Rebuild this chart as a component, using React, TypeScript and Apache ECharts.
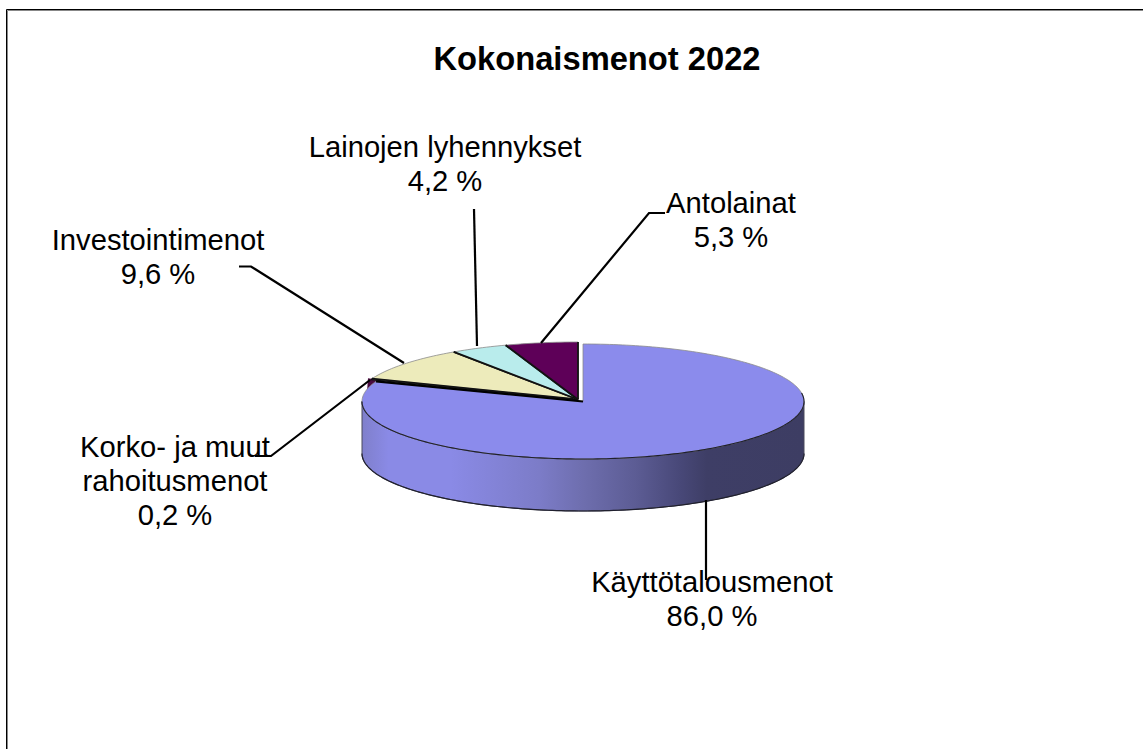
import React, { useEffect, useRef } from "react";
import * as echarts from "echarts";

const titleText = "Kokonaismenot 2022";
// drawn shares of the pie, clockwise from 12 o'clock
const categories = ["Käyttötalousmenot", "Korko- ja muut\nrahoitusmenot", "Investointimenot", "Lainojen lyhennykset", "Antolainat"];
const sliceShares = [80.7, 0.2, 9.6, 4.2, 5.3];
const shownPercents = ["86,0 %", "0,2 %", "9,6 %", "4,2 %", "5,3 %"];
const sliceColors = ["#8B8BEC", "#4A0A40", "#EDEBBB", "#B9ECEC", "#5E0058"];

const FONT = '"Liberation Sans", Arial, sans-serif';
const CX = 578, CY = 399.5, RX = 221, RY = 57.5, DEPTH = 52;
const MAIN_DX = 5, MAIN_DY = 2;

// leader line per slice (from slice edge to label) and label anchor
const leaders = [
  [[706, 500], [706, 580]],
  [[370, 380], [271, 456], [255, 456]],
  [[404, 363], [251, 266.5], [239, 266.5]],
  [[477, 346], [474, 209]],
  [[541, 343], [649, 213], [665, 213]],
];
const labelAnchors = [
  [712, 599],
  [175, 481],
  [158, 257],
  [445, 164],
  [731, 220],
];

const wallGradient = {
  type: "linear", x: 0, y: 0, x2: 1, y2: 0,
  colorStops: [
    { offset: 0, color: "#7F7FCB" },
    { offset: 0.06, color: "#8A8AE6" },
    { offset: 0.2, color: "#8A8AE6" },
    { offset: 0.4, color: "#7C7CC8" },
    { offset: 0.5, color: "#6E6EAE" },
    { offset: 0.62, color: "#5C5C94" },
    { offset: 0.72, color: "#484878" },
    { offset: 0.78, color: "#3E3E66" },
    { offset: 1, color: "#3D3D63" },
  ],
};

function arcPts(cx: number, cy: number, a0: number, a1: number) {
  const n = Math.max(2, Math.ceil(Math.abs(a1 - a0) / 0.02));
  const pts: number[][] = [];
  for (let i = 0; i <= n; i++) {
    const a = a0 + ((a1 - a0) * i) / n;
    pts.push([cx + RX * Math.sin(a), cy - RY * Math.cos(a)]);
  }
  return pts;
}

export default function App() {
  const ref = useRef<HTMLDivElement>(null);
  useEffect(() => {
    if (!ref.current) return;
    const chart = echarts.init(ref.current, undefined, { renderer: "svg" });
    const total = sliceShares.reduce((a, b) => a + b, 0);
    const starts: number[] = [];
    let acc = 0;
    sliceShares.forEach((v) => {
      starts.push(acc);
      acc += (v / total) * Math.PI * 2;
    });
    const renderItem = (_p: any, api: any) => {
      const idx = api.value(0) as number;
      const share = api.value(1) as number;
      const a0 = starts[idx];
      const a1 = a0 + (share / total) * Math.PI * 2;
      const isMain = idx === 0;
      const cx = CX + (isMain ? MAIN_DX : 0);
      const cy = CY + (isMain ? MAIN_DY : 0);
      const arc = arcPts(cx, cy, a0, a1);
      const children: any[] = [];
      // side wall: only the front half of the ellipse (angles between 90° and 270°)
      const wallA0 = Math.max(a0, Math.PI / 2);
      const wallA1 = Math.min(a1, (Math.PI * 3) / 2);
      if (isMain && wallA1 > wallA0) {
        const front = arcPts(cx, cy, wallA0, wallA1);
        const bottom = front.map(([x, y]) => [x, y + DEPTH]).reverse();
        children.push({
          type: "polygon",
          shape: { points: [...front, ...bottom] },
          style: { fill: wallGradient, stroke: "#4A4A5C", lineWidth: 1 },
        });
        children.push({
          type: "polyline",
          shape: { points: front.map(([x, y]) => [x, y + DEPTH]) },
          style: { stroke: "#20202E", lineWidth: 1.2, fill: "none" },
        });
      }
      if (idx === 1) {
        // the thin slice shows only its cut face behind the main slice
        const [ox, oy] = arc[0];
        children.push({
          type: "polygon",
          shape: { points: [[ox - 3, oy - 1], [ox + 10, oy + 1], [ox - 4, oy + 12]] },
          style: { fill: sliceColors[idx] },
        });
      }
      children.push({
        type: "polygon",
        shape: { points: [[cx, cy], ...arc] },
        style: { fill: sliceColors[idx], stroke: "#8a8a8a", lineWidth: 0.8, lineJoin: "round" },
      });
      // dark cut edges of the slice
      if (isMain) {
        const frontTop = arcPts(cx, cy, Math.PI / 2 - 0.15, Math.PI * 1.5);
        children.push({
          type: "polyline",
          shape: { points: frontTop },
          style: { stroke: "#20202E", lineWidth: 1.1, fill: "none" },
        });
        children.push({
          type: "line",
          shape: { x1: cx, y1: cy, x2: arc[arc.length - 1][0], y2: arc[arc.length - 1][1] },
          style: { stroke: "#000", lineWidth: 2.2 },
        });
      } else {
        [arc[0], arc[arc.length - 1]].forEach(([x, y]) =>
          children.push({
            type: "line",
            shape: { x1: cx, y1: cy, x2: x, y2: y },
            style: { stroke: "#111", lineWidth: 1.8 },
          }),
        );
      }
      // leader and label
      children.push({
        type: "polyline",
        shape: { points: leaders[idx] },
        style: { stroke: "#000", lineWidth: 2.2, fill: "none" },
        silent: true,
      });
      children.push({
        type: "text",
        x: labelAnchors[idx][0],
        y: labelAnchors[idx][1],
        style: {
          text: `${categories[idx]}\n${shownPercents[idx]}`,
          font: `29.2px ${FONT}`,
          fill: "#000",
          align: "center",
          verticalAlign: "middle",
          lineHeight: 34,
        },
      });
      return { type: "group", children };
    };
    // back slices first, main slice on top of them
    const order = [1, 2, 3, 4, 0];
    chart.setOption({
      animation: false,
      backgroundColor: "#fff",
      title: {
        text: titleText,
        left: 592,
        top: 37,
        textAlign: "center",
        textStyle: { fontFamily: FONT, fontWeight: "bold", fontSize: 32.7, color: "#000" },
      },
      graphic: [
        {
          type: "polyline",
          shape: { points: [[7.5, 749], [7.5, 10.5], [1143, 10.5]] },
          style: { stroke: "#888", lineWidth: 1, fill: "none" },
        },
        {
          type: "polyline",
          shape: { points: [[6.5, 749], [6.5, 9.5], [1143, 9.5]] },
          style: { stroke: "#000", lineWidth: 1, fill: "none" },
        },
      ],
      series: [
        {
          type: "custom",
          coordinateSystem: "none",
          renderItem,
          data: order.map((i) => [i, sliceShares[i]]),
        },
      ],
    });
    return () => chart.dispose();
  }, []);
  return <div ref={ref} style={{ position: "fixed", left: 0, top: 0, width: 1143, height: 749 }} />;
}
